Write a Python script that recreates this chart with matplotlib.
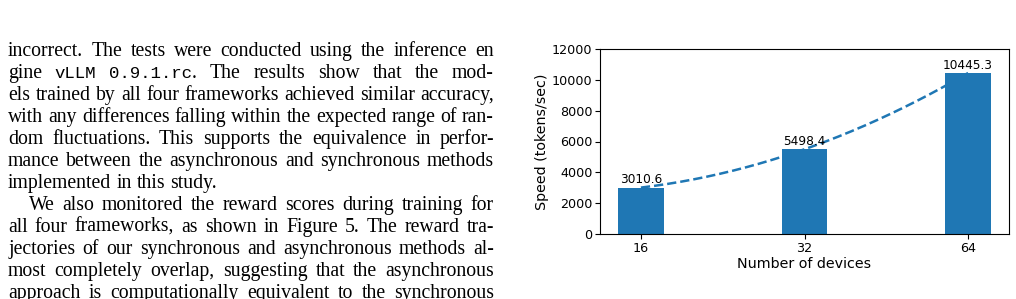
import numpy as np
import matplotlib
matplotlib.use("Agg")
import matplotlib.pyplot as plt

# chart data
devices = ['16', '32', '64']
speed = [3010.6, 5498.4, 10445.3]
yticks = [0, 2000, 4000, 6000, 8000, 10000, 12000]

# paragraph text, one entry per printed line; words in backticks are monospace
para_lines = [
    "incorrect. The tests were conducted using the inference en",
    "gine `vLLM` `0.9.1.rc`. The results show that the mod-",
    "els trained by all four frameworks achieved similar accuracy,",
    "with any differences falling within the expected range of ran-",
    "dom fluctuations. This supports the equivalence in perfor-",
    "mance between the asynchronous and synchronous methods",
    "implemented in this study.",
    "We also monitored the reward scores during training for",
    "all four frameworks, as shown in Figure 5. The reward tra-",
    "jectories of our synchronous and asynchronous methods al-",
    "most completely overlap, suggesting that the asynchronous",
    "approach is computationally equivalent to the synchronous",
]
ragged = {6}      # last line of paragraph, not stretched
indented = {7}    # first line of new paragraph

W, H = 1016, 299
fig = plt.figure(figsize=(W / 100, H / 100), dpi=100)
renderer = fig.canvas.get_renderer()

serif = 'Liberation Serif'
mono = 'Liberation Mono'
fs = 14.2
fs_mono = 12.5
x_left, x_right = 8, 494
base0, step = 56, 22.0


def pieces(word):
    # split a word like `0.9.1.rc`. into (text, family) pieces
    out = []
    parts = word.split('`')
    for i, p in enumerate(parts):
        if p:
            out.append((p, mono if i % 2 == 1 else serif))
    return out


def width_of(txt, fam):
    t = fig.text(0, 0, txt, fontsize=fs_mono if fam == mono else fs, family=fam)
    w = t.get_window_extent(renderer).width
    t.remove()
    return w


for i, line in enumerate(para_lines):
    words = [pieces(w) for w in line.split(' ')]
    widths = [[width_of(t, f) for t, f in w] for w in words]
    start = x_left + (21 if i in indented else 0)
    total = sum(sum(w) for w in widths)
    space = width_of('a a', serif) - 2 * width_of('a', serif)
    if i not in ragged and len(words) > 1:
        space = (x_right - start - total) / (len(words) - 1)
    x = start
    y = 1 - (base0 + i * step) / H
    for w, ws in zip(words, widths):
        for (t, f), wd in zip(w, ws):
            fig.text(x / W, y, t, fontsize=fs_mono if f == mono else fs,
                     family=f, va='baseline', ha='left')
            x += wd
        x += space

# chart
ax = fig.add_axes([600 / W, 65 / H, 409 / W, 185 / H])
pos = np.arange(len(devices))

# smooth trend through the measured speeds, drawn behind the bars
coef = np.polyfit(pos, speed, 2)
xs = np.linspace(pos[0], pos[-1], 200)
ax.plot(xs, np.polyval(coef, xs), '--', color='#1f77b4', lw=1.8, zorder=1)

bars = ax.bar(pos, speed, width=0.28, color='#1f77b4', zorder=2)
ax.bar_label(bars, labels=[f"{v:.1f}" for v in speed], padding=1, fontsize=8.7)

ax.set_xlim(-0.25, 2.25)
ax.set_ylim(0, 12000)
ax.set_xticks(pos)
ax.set_xticklabels(devices, fontsize=9.2)
ax.set_yticks(yticks)
ax.set_yticklabels([str(v) for v in yticks], fontsize=9.2)
ax.tick_params(axis='x', pad=2.5)
ax.tick_params(axis='y', pad=2)
ax.set_xlabel('Number of devices', fontsize=10.3, labelpad=1)
ax.set_ylabel('Speed (tokens/sec)', fontsize=10.3, labelpad=2)

fig.savefig('out.png', dpi=100)
